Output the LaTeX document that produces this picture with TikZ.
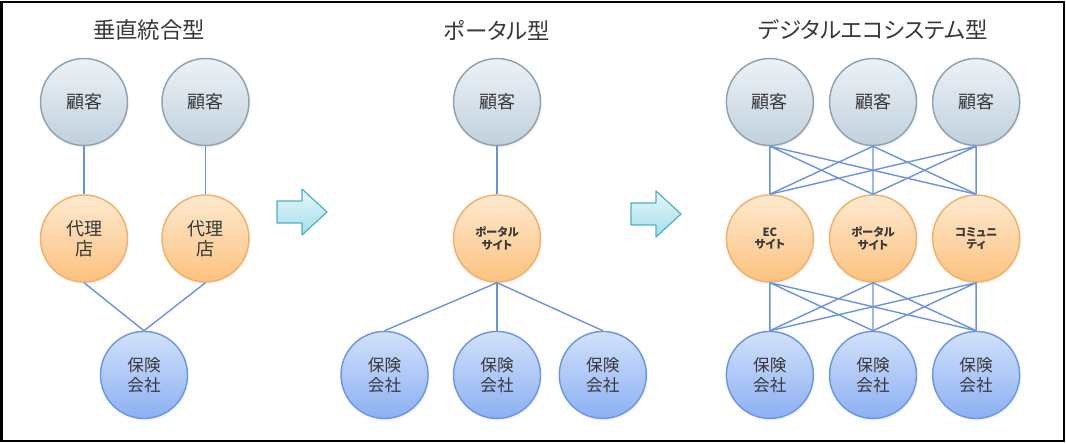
\documentclass[tikz,border=0pt]{standalone}
\usepackage{fontspec}
\newfontfamily\jpfont{Noto Sans CJK JP}[RawFeature=+palt]
\usepackage{tikz}
\usetikzlibrary{positioning, shadows}

\definecolor{custtop}{HTML}{EDF2F6}
\definecolor{custbot}{HTML}{C0D0DD}
\definecolor{custline}{HTML}{8EA3B2}
\definecolor{agtop}{HTML}{FEEAD0}
\definecolor{agbot}{HTML}{FBC27E}
\definecolor{agline}{HTML}{F3B06A}
\definecolor{instop}{HTML}{D2E1FB}
\definecolor{insbot}{HTML}{8CB0F2}
\definecolor{insline}{HTML}{6B97E6}
\definecolor{linkblue}{HTML}{6A92E2}
\definecolor{arrtop}{HTML}{E6F7FB}
\definecolor{arrbot}{HTML}{A3DEEA}
\definecolor{arrline}{HTML}{4FAFBF}
\definecolor{txtgray}{HTML}{383838}

\begin{document}
\begin{tikzpicture}[x=0.75pt, y=-0.75pt,
        circ/.style={circle, line width=1.1pt, minimum size=65.25pt, inner sep=0pt,
                     align=center, text=txtgray,
                     circular drop shadow={shadow xshift=0.6pt, shadow yshift=-1.2pt, shadow scale=1.03, opacity=0.25}},
        cust/.style={circ, draw=custline, top color=custtop, bottom color=custbot,
                     font=\jpfont\fontsize{13.5pt}{15pt}\selectfont},
        agent/.style={circ, draw=agline, top color=agtop, bottom color=agbot,
                      font=\jpfont\fontsize{13.5pt}{15pt}\selectfont},
        site/.style={circ, draw=agline, top color=agtop, bottom color=agbot,
                     font=\jpfont\bfseries\fontsize{8.5pt}{9.5pt}\selectfont},
        insurer/.style={circ, draw=insline, top color=instop, bottom color=insbot,
                        font=\jpfont\fontsize{12.5pt}{15pt}\selectfont},
        heading/.style={text=txtgray, font=\jpfont\fontsize{16.8pt}{18pt}\selectfont},
        link/.style={draw=linkblue, line width=1.05pt},
        blockarrow/.style={draw=arrline, line width=0.9pt, line join=round,
                           top color=arrtop, bottom color=arrbot}
    ]
        \useasboundingbox (0,0) rectangle (1066,443);
        \draw[line width=1.5pt] (1.5,1.5) rectangle (1063.5,440.5);

        % vertically integrated
        \node[heading] (headA) at (149,30) {垂直統合型};
        \node[cust] (custA1) at (84,102) {顧客};
        \node[cust, right=24.75pt of custA1] (custA2) {顧客};
        \node[agent, below=36pt of custA1] (agA1) {代理\\店};
        \node[agent, below=36pt of custA2] (agA2) {代理\\店};
        \node[insurer, below=36pt of agA1, xshift=45pt] (insA) {保険\\会社};

        \draw[link] (custA1.south) -- (agA1.north);
        \draw[link] (custA2.south) -- (agA2.north);
        \draw[link] (agA1.south) -- (insA.north);
        \draw[link] (agA2.south) -- (insA.north);

        % portal
        \node[heading] (headB) at (497,30) {ポータル型};
        \node[cust] (custB) at (497,102) {顧客};
        \node[site, below=36pt of custB] (portB) {ポータル\\サイト};
        \node[insurer, below=36pt of portB] (insB2) {保険\\会社};
        \node[insurer, left=18pt of insB2] (insB1) {保険\\会社};
        \node[insurer, right=13pt of insB2] (insB3) {保険\\会社};

        \draw[link] (custB.south) -- (portB.north);
        \draw[link] (portB.south) -- (insB1.north);
        \draw[link] (portB.south) -- (insB2.north);
        \draw[link] (portB.south) -- (insB3.north);

        % digital ecosystem
        \node[heading] (headC) at (873,30) {デジタルエコシステム型};
        \node[cust] (custC2) at (873,102) {顧客};
        \node[cust, left=11pt of custC2] (custC1) {顧客};
        \node[cust, right=11pt of custC2] (custC3) {顧客};
        \node[site, below=36pt of custC1] (siteC1) {EC\\サイト};
        \node[site, below=36pt of custC2] (siteC2) {ポータル\\サイト};
        \node[site, below=36pt of custC3] (siteC3) {コミュニ\\ティ};
        \node[insurer, below=36pt of siteC1] (insC1) {保険\\会社};
        \node[insurer, below=36pt of siteC2] (insC2) {保険\\会社};
        \node[insurer, below=36pt of siteC3] (insC3) {保険\\会社};

        \draw[link] (custC1.south) -- (siteC1.north) (custC1.south) -- (siteC2.north) (custC1.south) -- (siteC3.north);
        \draw[link] (custC2.south) -- (siteC1.north) (custC2.south) -- (siteC2.north) (custC2.south) -- (siteC3.north);
        \draw[link] (custC3.south) -- (siteC1.north) (custC3.south) -- (siteC2.north) (custC3.south) -- (siteC3.north);
        \draw[link] (siteC1.south) -- (insC1.north) (siteC1.south) -- (insC2.north) (siteC1.south) -- (insC3.north);
        \draw[link] (siteC2.south) -- (insC1.north) (siteC2.south) -- (insC2.north) (siteC2.south) -- (insC3.north);
        \draw[link] (siteC3.south) -- (insC1.north) (siteC3.south) -- (insC2.north) (siteC3.south) -- (insC3.north);

        % transition arrows
        \draw[blockarrow] (277,201) -- (302,201) -- (302,189) -- (327,212)
            -- (302,235) -- (302,223) -- (277,223) -- cycle;
        \draw[blockarrow] (631,203) -- (656,203) -- (656,191) -- (681,214)
            -- (656,237) -- (656,225) -- (631,225) -- cycle;
    \end{tikzpicture}
\end{document}
